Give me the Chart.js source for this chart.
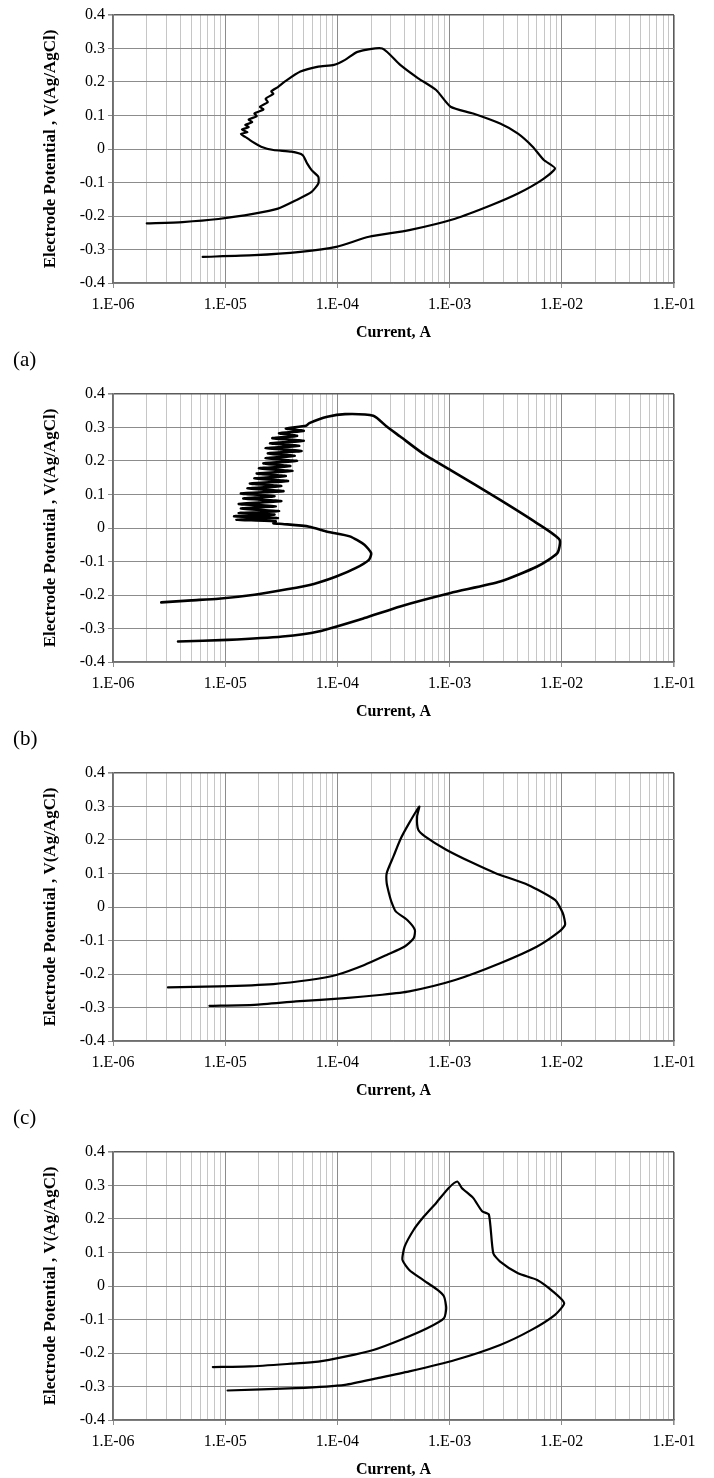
<!DOCTYPE html>
<html>
<head>
<meta charset="utf-8">
<script src="https://cdn.jsdelivr.net/npm/chart.js@4/dist/chart.umd.min.js"></script>
<style>
  html, body { margin: 0; padding: 0; background: #fff; overflow: hidden; }
  #wrap { position: relative; width: 714px; height: 1478px; overflow: hidden; }
  .panel { position: absolute; left: 0; width: 714px; height: 379px; }
  .tag { position: absolute; left: 13px; font-family: "Liberation Serif", "Times New Roman", serif; font-size: 21px; line-height: 1; color: #000; }
</style>
</head>
<body>
<div id="wrap">
  <div class="panel" style="top:0px"><canvas id="c0" width="714" height="379"></canvas></div>
  <div class="panel" style="top:379px"><canvas id="c1" width="714" height="379"></canvas></div>
  <div class="panel" style="top:758px"><canvas id="c2" width="714" height="379"></canvas></div>
  <div class="panel" style="top:1137px"><canvas id="c3" width="714" height="379"></canvas></div>
  <div class="tag" id="t0" style="top:349px"></div>
  <div class="tag" id="t1" style="top:728px"></div>
  <div class="tag" id="t2" style="top:1107px"></div>
</div>
<script>
// ---------------- data ----------------
const panelTags = ['(a)', '(b)', '(c)'];
const xTitle = 'Current, A';
const yTitle = 'Electrode Potential , V(Ag/AgCl)';
const xTickLabels = ['1.E-06', '1.E-05', '1.E-04', '1.E-03', '1.E-02', '1.E-01'];
const yTickLabels = ['-0.4', '-0.3', '-0.2', '-0.1', '0', '0.1', '0.2', '0.3', '0.4'];

// (a)
const aCurrent = [2.0e-6, 4.17e-6, 8.7e-6, 1.82e-5, 2.95e-5, 4.27e-5, 5.89e-5, 6.76e-5, 6.76e-5, 5.89e-5, 5.37e-5, 4.9e-5, 3.89e-5, 2.69e-5, 2.09e-5, 1.74e-5, 1.51e-5,
  1.38e-5, 1.58e-5, 1.41e-5, 1.62e-5, 1.51e-5, 1.74e-5, 1.62e-5, 1.91e-5, 1.82e-5, 2.19e-5, 2.04e-5, 2.4e-5, 2.29e-5, 2.69e-5, 2.57e-5, 2.95e-5,
  3.39e-5, 4.68e-5, 6.76e-5, 9.33e-5, 1.17e-4, 1.51e-4, 2.51e-4, 3.63e-4, 5.25e-4, 7.59e-4, 1.02e-3, 1.62e-3, 2.82e-3, 4.07e-3, 5.5e-3, 6.92e-3, 8.7e-3,
  6.61e-3, 4.07e-3, 2.34e-3, 1.12e-3, 4.37e-4, 1.91e-4, 9.77e-5, 4.68e-5, 1.82e-5, 6.3e-6];
const aPotential = [-0.222, -0.218, -0.209, -0.193, -0.178, -0.153, -0.128, -0.103, -0.083, -0.063, -0.043, -0.018, -0.008, -0.003, 0.007, 0.022, 0.036,
  0.045, 0.05, 0.058, 0.065, 0.072, 0.08, 0.088, 0.098, 0.106, 0.118, 0.126, 0.14, 0.15, 0.165, 0.172, 0.185,
  0.201, 0.231, 0.246, 0.251, 0.266, 0.290, 0.300, 0.251, 0.211, 0.176, 0.126, 0.106, 0.076, 0.046, 0.007, -0.033, -0.058,
  -0.093, -0.133, -0.168, -0.208, -0.242, -0.262, -0.292, -0.307, -0.317, -0.322];

// (b)
const bCurrent = [2.69e-6, 5.0e-6, 8.7e-6, 1.82e-5, 3.55e-5, 6.17e-5, 9.77e-5, 1.45e-4, 1.91e-4, 2.0e-4, 1.74e-4, 1.29e-4, 8.13e-5, 5.62e-5, 3.24e-5, 2.69e-5,
  2.82e-5, 1.26e-5, 2.95e-5, 1.2e-5, 2.75e-5, 1.32e-5, 3.02e-5, 1.38e-5, 2.82e-5, 1.32e-5, 3.16e-5, 1.45e-5, 2.75e-5, 1.38e-5, 3.31e-5, 1.58e-5, 3.16e-5, 1.66e-5,
  3.63e-5, 1.82e-5, 3.47e-5, 1.91e-5, 3.98e-5, 2.0e-5, 3.8e-5, 2.19e-5, 4.37e-5, 2.29e-5, 4.17e-5, 2.4e-5, 4.79e-5, 2.29e-5, 4.57e-5, 2.51e-5, 5.01e-5, 2.63e-5,
  4.37e-5, 3.02e-5, 5.01e-5, 3.47e-5, 5.25e-5,
  5.62e-5, 8.13e-5, 1.17e-4, 2.09e-4, 2.75e-4, 3.63e-4, 5.75e-4, 1.02e-3, 2.82e-3, 6.03e-3, 9.55e-3, 9.12e-3, 6.03e-3, 2.82e-3, 1.02e-3, 3.63e-4, 1.74e-4,
  6.76e-5, 3.24e-5, 1.05e-5, 3.8e-6];
const bPotential = [-0.222, -0.216, -0.211, -0.199, -0.183, -0.167, -0.145, -0.120, -0.095, -0.075, -0.050, -0.025, -0.011, 0.004, 0.012, 0.014,
  0.02, 0.025, 0.03, 0.035, 0.04, 0.045, 0.05, 0.058, 0.065, 0.072, 0.08, 0.088, 0.095, 0.103, 0.11, 0.118, 0.125, 0.133,
  0.14, 0.148, 0.155, 0.163, 0.17, 0.178, 0.185, 0.193, 0.2, 0.208, 0.215, 0.223, 0.23, 0.238, 0.245, 0.253, 0.26, 0.268,
  0.275, 0.283, 0.29, 0.297, 0.305,
  0.313, 0.332, 0.340, 0.335, 0.303, 0.273, 0.223, 0.173, 0.084, 0.014, -0.035, -0.075, -0.115, -0.160, -0.194, -0.234, -0.269,
  -0.309, -0.324, -0.334, -0.339];

// (c)
const cCurrent = [3.09e-6, 8.7e-6, 2.69e-5, 5.62e-5, 9.77e-5, 1.74e-4, 2.75e-4, 3.98e-4, 4.79e-4, 4.9e-4, 4.17e-4, 3.31e-4, 3.02e-4, 2.88e-4, 2.75e-4, 2.75e-4,
  3.16e-4, 3.63e-4, 4.37e-4, 5.37e-4, 5.13e-4, 5.25e-4, 6.03e-4, 9.33e-4, 1.62e-3, 2.57e-3, 5.01e-3, 8.7e-3, 1.02e-2, 1.07e-2, 9.55e-3, 6.03e-3,
  2.82e-3, 1.12e-3, 4.37e-4, 2.51e-4, 1.17e-4, 4.27e-5, 1.82e-5, 7.24e-6];
const cPotential = [-0.240, -0.237, -0.230, -0.218, -0.203, -0.173, -0.143, -0.118, -0.093, -0.068, -0.038, -0.013, 0.017, 0.041, 0.071, 0.101,
  0.151, 0.201, 0.251, 0.300, 0.270, 0.231, 0.211, 0.171, 0.131, 0.101, 0.066, 0.021, -0.018, -0.053, -0.073, -0.118,
  -0.168, -0.218, -0.252, -0.262, -0.272, -0.282, -0.292, -0.295];

// (d)
const dCurrent = [7.76e-6, 1.66e-5, 3.89e-5, 6.76e-5, 1.17e-4, 2.09e-4, 3.63e-4, 6.31e-4, 8.91e-4, 9.33e-4, 8.91e-4, 7.76e-4, 5.75e-4, 4.37e-4, 3.8e-4, 3.98e-4,
  4.79e-4, 5.75e-4, 7.59e-4, 9.77e-4, 1.17e-3, 1.29e-3, 1.62e-3, 1.95e-3, 2.24e-3, 2.45e-3, 2.82e-3, 4.07e-3, 6.03e-3, 8.32e-3, 1.05e-2, 8.7e-3,
  5.37e-3, 2.82e-3, 1.12e-3, 4.37e-4, 2.29e-4, 1.17e-4, 4.27e-5, 1.05e-5];
const dPotential = [-0.242, -0.240, -0.232, -0.226, -0.211, -0.191, -0.161, -0.126, -0.096, -0.066, -0.031, -0.011, 0.019, 0.048, 0.078, 0.118,
  0.168, 0.203, 0.248, 0.292, 0.312, 0.292, 0.263, 0.223, 0.213, 0.098, 0.073, 0.038, 0.018, -0.016, -0.051, -0.086,
  -0.131, -0.176, -0.221, -0.255, -0.275, -0.295, -0.305, -0.312];

// ---------------- drawing ----------------
const FONT = '"Liberation Serif", "Times New Roman", serif';
const xMinExp = -6, xMaxExp = -1;
const xTickValues = [];
for (let e = xMinExp; e < xMaxExp; e++) {
  for (let m = 1; m <= 9; m++) xTickValues.push(Number((m + 'e' + e)));
}
xTickValues.push(Number('1e' + xMaxExp));

function isDecade(v) {
  const l = Math.log10(v);
  return Math.abs(l - Math.round(l)) < 1e-6;
}

function makeChart(id, cur, pot, lw) {
  const pts = cur.map((c, i) => ({ x: c, y: pot[i] }));
  return new Chart(document.getElementById(id), {
    type: 'scatter',
    data: {
      datasets: [{
        data: pts,
        showLine: true,
        borderColor: '#000',
        borderWidth: lw,
        pointRadius: 0,
        tension: 0.2,
        borderJoinStyle: 'round',
        borderCapStyle: 'round',
        fill: false
      }]
    },
    options: {
      responsive: false,
      animation: false,
      events: [],
      layout: { padding: { left: 0, right: 40, top: 15, bottom: 0 } },
      plugins: { legend: { display: false }, tooltip: { enabled: false } },
      scales: {
        x: {
          type: 'logarithmic',
          min: Number('1e' + xMinExp),
          max: Number('1e' + xMaxExp),
          afterBuildTicks: (s) => { s.ticks = xTickValues.map(v => ({ value: v, major: isDecade(v) })); },
          afterFit: (s) => { s.height = 96; },
          ticks: {
            autoSkip: false,
            maxRotation: 0,
            minRotation: 0,
            color: '#000',
            padding: 7,
            font: { family: FONT, size: 16 },
            callback: (v) => {
              if (!isDecade(v)) return '';
              const idx = Math.round(Math.log10(v)) - xMinExp;
              return xTickLabels[idx];
            }
          },
          grid: {
            color: (ctx) => {
              const v = ctx.tick ? ctx.tick.value : 0;
              if (Math.abs(v - 0.1) < 1e-9) return '#5a5a5a';
              return isDecade(v) ? '#8c8c8c' : '#c6c6c6';
            },
            lineWidth: (ctx) => (ctx.tick && Math.abs(ctx.tick.value - 0.1) < 1e-9) ? 1.6 : 1,
            drawTicks: true,
            tickLength: 5,
            tickColor: (ctx) => (ctx.tick && isDecade(ctx.tick.value)) ? '#8c8c8c' : 'rgba(0,0,0,0)'
          },
          border: { display: true, color: '#6e6e6e', width: 1.6 },
          title: {
            display: true,
            text: xTitle,
            color: '#000',
            font: { family: FONT, size: 16, weight: 'bold' },
            padding: { top: 0, bottom: 37 }
          }
        },
        y: {
          type: 'linear',
          min: -0.4,
          max: 0.4,
          afterFit: (s) => { s.width = 113; },
          ticks: {
            stepSize: 0.1,
            color: '#000',
            padding: 3,
            font: { family: FONT, size: 16 },
            callback: (v, i) => yTickLabels[i]
          },
          grid: {
            color: (ctx) => (ctx.tick && Math.abs(ctx.tick.value - 0.4) < 1e-9) ? '#5a5a5a' : '#8c8c8c',
            lineWidth: (ctx) => (ctx.tick && Math.abs(ctx.tick.value - 0.4) < 1e-9) ? 1.6 : 1,
            drawTicks: true,
            tickLength: 5,
            tickColor: '#8c8c8c'
          },
          border: { display: true, color: '#6e6e6e', width: 1.6 },
          title: {
            display: true,
            text: yTitle,
            color: '#000',
            font: { family: FONT, size: 17, weight: 'bold' },
            padding: { top: 40, bottom: 0 }
          }
        }
      }
    }
  });
}

makeChart('c0', aCurrent, aPotential, 2.2);
makeChart('c1', bCurrent, bPotential, 2.6);
makeChart('c2', cCurrent, cPotential, 2.2);
makeChart('c3', dCurrent, dPotential, 2.2);
panelTags.forEach((t, i) => { document.getElementById('t' + i).textContent = t; });
</script>
</body>
</html>
